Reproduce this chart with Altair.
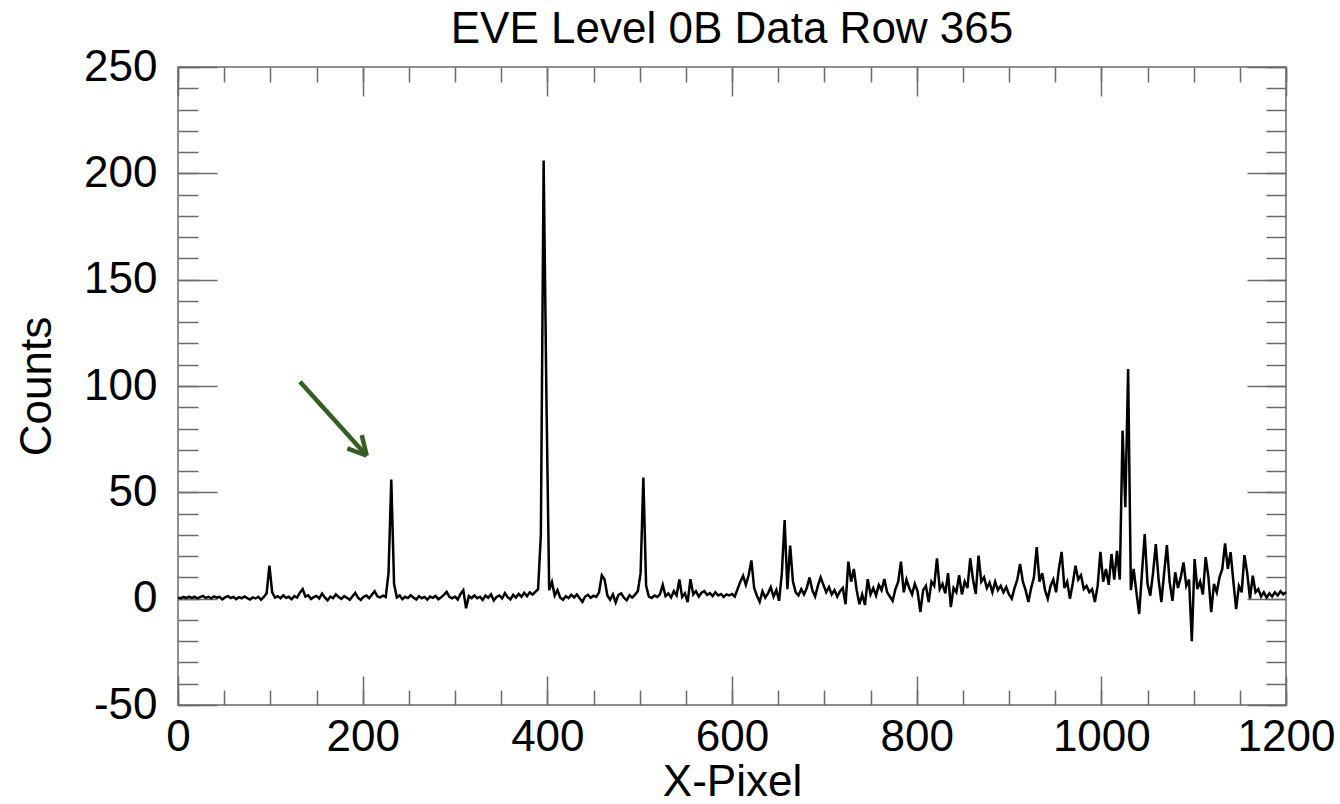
import altair as alt
import pandas as pd

TITLE = "EVE Level 0B Data Row 365"
X_TITLE = "X-Pixel"
Y_TITLE = "Counts"
X_TICKS = [0, 200, 400, 600, 800, 1000, 1200]
X_MINOR = list(range(0, 1201, 50))
Y_TICKS = [-50, 0, 50, 100, 150, 200, 250]
Y_MINOR = list(range(-50, 251, 10))

# detector x-pixel grid (every 3rd pixel) and counts
X_PIXEL = list(range(0, 1201, 3))
COUNTS = [
    0.5, 0.2, 0.8, 0.3, 1.0, 0.4, 0.9, 0.1, 0.7, 1.3, 0.4, 0.9, 0.2, 1.1, 0.5, 0.8, -0.3, 0.6, 1.2, 0.3,
    0.8, -0.2, 0.7, 0.2, 1.0, 0.3, -0.4, 0.6, 0.1, 0.9, -0.5, 0.8, 2.5, 15.5, 3.0, 0.5, 1.2, 0.2, 1.5, 0.4,
    0.9, -0.3, 1.2, 0.5, 2.8, 4.5, 1.0, 1.6, -0.2, 0.7, 1.3, 0.1, 2.4, 0.6, -0.8, 1.0, 0.3, 2.0, 0.8, -0.1,
    1.2, 0.4, -0.5, 1.1, 2.7, 0.5, -0.6, 0.9, 1.5, 0.2, 1.8, 3.5, 1.0, 0.6, 1.4, 0.8, 12.0, 56.0, 7.0, 0.6,
    1.5, -0.2, 0.9, 0.3, 1.6, 0.5, -0.4, 1.2, 0.2, 0.8, -0.5, 1.0, 0.4, 1.3, -0.3, 0.6, 1.8, 3.2, 0.9, 0.2,
    1.0, -0.4, 2.2, 4.0, -4.5, 1.2, 0.3, 1.5, 0.2, 0.9, -0.6, 1.4, 0.4, 2.0, -0.8, 0.8, 1.5, 0.1, 2.6, 0.7,
    -0.3, 1.8, 0.5, 2.2, 0.9, 2.8, 1.2, 3.0, 1.9, 3.2, 4.5, 30.0, 206.0, 95.0, 4.0, 7.8, 1.5, 4.0, 0.5, -0.5,
    1.2, 0.3, 1.8, 0.6, 2.0, 0.2, -1.5, 1.0, 1.8, 0.4, 1.4, 0.8, 3.0, 11.0, 9.0, 1.5, -0.5, 2.0, -1.8, 1.8,
    2.5, 0.4, -0.8, 1.6, 0.5, 1.9, 3.5, 12.0, 57.0, 6.0, 1.0, 0.3, 1.5, 0.8, 2.0, 6.5, 1.2, 2.5, 0.6, 3.5,
    1.5, 9.0, 0.8, 2.5, -1.6, 9.2, 2.0, 3.5, 1.0, 2.8, 3.5, 1.8, 2.6, 1.2, 3.0, 1.5, 2.2, 0.8, 2.0, 1.5,
    2.2, 1.0, 4.5, 8.0, 10.8, 6.5, 11.0, 18.0, 5.0, 1.4, -1.5, 3.5, 0.5, 2.5, 5.4, 1.0, 4.0, -1.0, 12.0, 37.0,
    4.5, 25.0, 8.0, 3.0, 1.5, 4.5, 2.0, 5.0, 10.0, 4.0, 1.0, 6.0, 10.0, 6.5, 3.0, 5.5, 2.0, 4.0, 1.0, 3.5,
    5.0, -2.6, 17.4, 8.0, 14.0, 4.0, -2.6, 2.0, -3.0, 9.2, 2.0, 5.0, 1.5, 6.5, 4.0, 9.2, 3.0, 1.0, -1.0, 4.5,
    8.0, 17.4, 3.0, 9.0, 5.0, 2.0, 7.0, 3.5, -6.3, 4.0, 6.0, -1.6, 8.0, 6.0, 19.0, 4.5, 7.0, 2.5, 12.0, -4.0,
    5.0, 3.0, 11.0, 2.0, 8.0, 5.0, 19.0, 9.0, 2.2, 20.2, 8.0, 10.0, 5.0, 7.5, 3.0, 8.0, 4.0, 6.0, 3.0, 5.5,
    2.0, 0.0, 5.0, 9.0, 16.3, 8.0, 4.0, -1.6, 5.0, 10.0, 24.3, 8.0, 12.0, 4.0, 0.0, 6.0, 9.0, 3.0, 14.0, 22.0,
    5.0, 8.0, 0.0, 7.0, 15.5, 9.0, 11.0, 4.5, 6.0, 3.0, 4.5, -1.6, 6.0, 22.0, 8.0, 14.0, 6.5, 21.0, 9.0, 22.5,
    9.0, 79.0, 43.0, 108.0, 4.0, 14.0, 3.0, -7.2, 12.0, 30.4, 7.0, 1.4, 12.0, 25.7, 9.0, -1.6, 12.0, 25.2, 7.8, -1.0,
    12.4, 5.0, 10.0, 17.0, 6.0, 9.0, -20.0, 18.6, 4.5, 8.0, 2.0, 19.5, 10.0, -6.3, 6.9, 3.0, 10.0, 14.0, 26.0, 14.0,
    21.9, 8.0, -4.9, 6.0, 3.0, 20.5, 12.0, 0.0, 10.8, 3.0, 4.5, 1.0, 3.0, 0.5, 2.5, 1.0, 3.0, 1.5, 3.5, 2.0,
    3.0,
]

# annotation arrow (data units): shaft then the two arms of the head
ARROW_X0 = [132.1, 204.4, 204.4]
ARROW_Y0 = [102.0, 67.2, 67.2]
ARROW_X1 = [204.4, 199.0, 183.4]
ARROW_Y1 = [67.2, 76.9, 70.7]

FONT = "Liberation Sans"
TICK_COLOR = "#6b6b6b"

df = pd.DataFrame({"x": X_PIXEL, "y": COUNTS})
arrow_df = pd.DataFrame({"x": ARROW_X0, "y": ARROW_Y0, "x2": ARROW_X1, "y2": ARROW_Y1})

xs = alt.Scale(domain=[0, 1200], nice=False, zero=False)
ys = alt.Scale(domain=[-50, 250], nice=False, zero=False)


def tick_axis(orient, values, size, **kw):
    return alt.Axis(
        orient=orient, values=values, tickSize=size, offset=-size,
        domain=False, grid=False, tickColor=TICK_COLOR, tickWidth=1.5,
        **kw,
    )


label_style = dict(labelFont=FONT, labelFontSize=44, labelColor="black",
                   titleFont=FONT, titleFontSize=44, titleColor="black",
                   titleFontWeight="normal", labelExpr="'' + datum.value")

x_major_bottom = tick_axis("bottom", X_TICKS, 29, labels=True, labelPadding=10,
                           labelFlush=False, labelOverlap=False, title=X_TITLE,
                           titlePadding=1, **label_style)
y_major_left = tick_axis("left", Y_TICKS, 39, labels=True, labelPadding=21,
                         labelOverlap=False, title=Y_TITLE, titlePadding=24,
                         **label_style)

line = alt.Chart(df).mark_line(color="black", strokeWidth=2.5, strokeJoin="miter").encode(
    x=alt.X("x:Q", scale=xs, axis=x_major_bottom),
    y=alt.Y("y:Q", scale=ys, axis=y_major_left),
)


def ghost(xaxis, yaxis):
    return alt.Chart(df).mark_line(opacity=0).encode(
        x=alt.X("x:Q", scale=xs, axis=xaxis),
        y=alt.Y("y:Q", scale=ys, axis=yaxis),
    )


minor_bl = ghost(tick_axis("bottom", X_MINOR, 15, labels=False, title=None),
                 tick_axis("left", Y_MINOR, 20, labels=False, title=None))
major_tr = ghost(tick_axis("top", X_TICKS, 29, labels=False, title=None),
                 tick_axis("right", Y_TICKS, 39, labels=False, title=None))
minor_tr = ghost(tick_axis("top", X_MINOR, 15, labels=False, title=None),
                 tick_axis("right", Y_MINOR, 20, labels=False, title=None))

arrow = alt.Chart(arrow_df).mark_rule(color="#355e22", strokeWidth=4.5).encode(
    x=alt.X("x:Q", scale=xs, axis=None),
    y=alt.Y("y:Q", scale=ys, axis=None),
    x2="x2:Q",
    y2="y2:Q",
)

chart = (
    alt.layer(minor_bl, major_tr, minor_tr, line, arrow)
    .resolve_axis(x="independent", y="independent")
    .properties(
        width=1108,
        height=638,
        title=alt.TitleParams(TITLE, font=FONT, fontSize=44, fontWeight="normal",
                              color="black", anchor="middle", offset=-7),
        autosize=alt.AutoSizeParams(type="none"),
        padding={"left": 178, "top": 67, "right": 54, "bottom": 99},
        background="white",
    )
    .configure_view(stroke=TICK_COLOR, strokeWidth=1.5)
)

chart.save("out.html", embed_options={"renderer": "svg", "actions": False})
